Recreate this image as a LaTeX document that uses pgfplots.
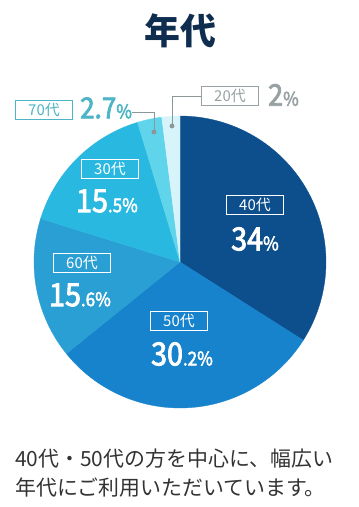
\documentclass[border=0pt]{standalone}
\usepackage{pgfplots}
\pgfplotsset{compat=1.18}
\usepackage{fontspec}
\setmainfont{Noto Sans CJK JP}
\newfontfamily\numfont{Noto Sans CJK JP}[FakeBold=2.6, FakeStretch=0.9]
\definecolor{c40}{HTML}{0C4F8C}
\definecolor{c50}{HTML}{1683CC}
\definecolor{c60}{HTML}{2A9FD4}
\definecolor{c30}{HTML}{29B8E0}
\definecolor{c70}{HTML}{5FD4EB}
\definecolor{c20}{HTML}{D7F4FA}
\definecolor{titlec}{HTML}{0F2D4F}
\definecolor{lab70}{HTML}{4DB5C5}
\definecolor{lab20}{HTML}{97A1A4}
\definecolor{leader}{HTML}{8C9799}
\definecolor{bodytext}{HTML}{333333}
% shares in percent, clockwise from the top
\def\pA{34}\def\pB{30.2}\def\pC{15.6}\def\pD{15.5}\def\pE{2.7}\def\pF{2}
\newcommand{\slice}[3]{\addplot[fill=#3, draw=#3, line width=0.3pt, domain=#1:#2, samples=90, variable=\t]
  ({180+146*sin(\t)},{262-146*cos(\t)}) -- (axis cs:180,262) -- cycle;}
\newcommand{\bignum}[1]{{\fontsize{32}{32}\selectfont\numfont #1}}
\newcommand{\smallnum}[1]{{\fontsize{19}{19}\selectfont\numfont #1}}
\begin{document}
\begin{tikzpicture}
\pgfmathsetmacro\aA{\pA*3.6}
\pgfmathsetmacro\aB{\aA+\pB*3.6}
\pgfmathsetmacro\aC{\aB+\pC*3.6}
\pgfmathsetmacro\aD{\aC+\pD*3.6}
\pgfmathsetmacro\aE{\aD+\pE*3.6}
\pgfmathsetmacro\aF{\aE+\pF*3.6}
\begin{axis}[width=359bp, height=507bp, scale only axis, xmin=0, xmax=359, ymin=0, ymax=507,
  y dir=reverse, hide axis, clip=false]
\path (axis cs:0,0) rectangle (axis cs:359,507);
\slice{0}{\aA}{c40}
\slice{\aA}{\aB}{c50}
\slice{\aB}{\aC}{c60}
\slice{\aC}{\aD}{c30}
\slice{\aD}{\aE}{c70}
\slice{\aE}{\aF}{c20}
% leaders
\addplot[leader, line width=0.8pt] coordinates {(132,112) (154,112) (154,132)};
\addplot[leader, line width=0.8pt] coordinates {(201,96) (172,96) (172,126)};
\addplot[leader, only marks, mark=*, mark size=2.2pt] coordinates {(154,132) (172,126)};
% title
\node[text=titlec, font=\fontsize{36}{36}\selectfont\bfseries] at (axis cs:180,31) {年代};
% boxes
\tikzset{lbox/.style={draw=white, line width=0.8pt, text=white, minimum width=57bp, minimum height=19bp, inner sep=0pt, font=\fontsize{15}{15}\selectfont}}
\node[lbox] at (axis cs:255,205) {40代};
\node[text=white, inner sep=0pt] at (axis cs:255,239) {\bignum{34}\smallnum{\%}};
\node[lbox] at (axis cs:179,321) {50代};
\node[text=white, inner sep=0pt] at (axis cs:182,354) {\bignum{30}\smallnum{.2\%}};
\node[lbox] at (axis cs:82,263) {60代};
\node[text=white, inner sep=0pt] at (axis cs:80,295) {\bignum{15}\smallnum{.6\%}};
\node[lbox] at (axis cs:110,169) {30代};
\node[text=white, inner sep=0pt] at (axis cs:107,201) {\bignum{15}\smallnum{.5\%}};
\node[lbox, draw=lab70, text=lab70] at (axis cs:44,110) {70代};
\node[text=lab70, inner sep=0pt, anchor=west] at (axis cs:80,108) {{\fontsize{29}{29}\selectfont\numfont 2.7}\smallnum{\%}};
\node[lbox, draw=lab20, text=lab20] at (axis cs:230,96) {20代};
\node[text=lab20, inner sep=0pt, anchor=west] at (axis cs:268,95) {{\fontsize{30}{30}\selectfont\numfont 2}\smallnum{\%}};
% caption
\node[text=bodytext, anchor=west, inner sep=0pt, font=\fontsize{21}{21}\selectfont] at (axis cs:15,459) {40代・50代の方を中心に、幅広い};
\node[text=bodytext, anchor=west, inner sep=0pt, font=\fontsize{21}{21}\selectfont] at (axis cs:15,488) {年代にご利用いただいています。};
\end{axis}
\end{tikzpicture}
\end{document}
